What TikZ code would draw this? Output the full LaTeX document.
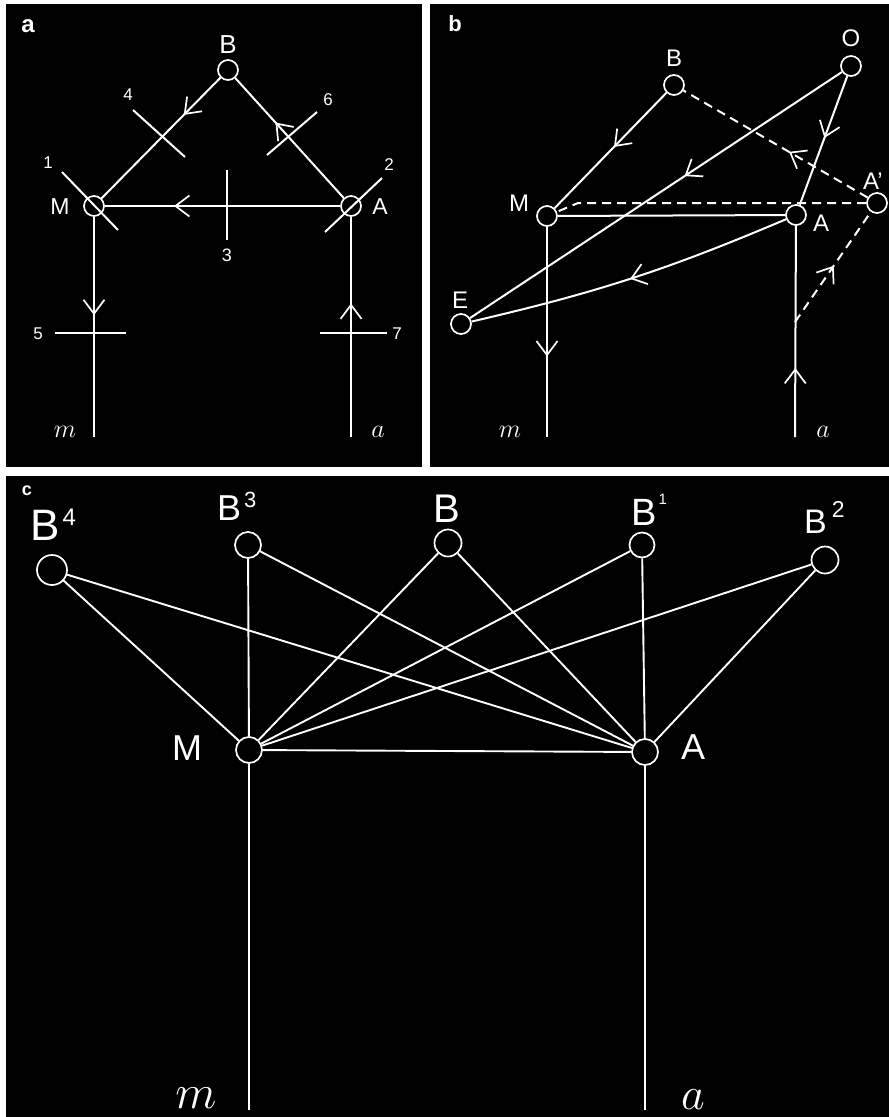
\RequirePackage{fix-cm}
\documentclass[tikz,border=0pt]{standalone}
\usepackage{fontspec}
\setmainfont{Liberation Sans}
\usetikzlibrary{decorations.markings}

\tikzset{
  site/.style={circle,draw=white,fill=black,line width=1.7pt,minimum size=#1,inner sep=0pt},
  site/.default=20pt,
  wire/.style={draw=white,line width=2pt},
  thin wire/.style={draw=white,line width=1.9pt},
  dash wire/.style={wire,dash pattern=on 9pt off 6pt},
  flow/.style={postaction={decorate},decoration={markings,
    mark=at position #1 with {\draw[white,line width=1.7pt,solid,line join=miter]
      (-14pt,10.5pt) -- (0pt,0pt) -- (-14pt,-10.5pt);}}},
  lbl/.style={text=white,inner sep=0pt,font=\fontsize{#1}{#1}\selectfont},
  tag/.style={text=white,inner sep=0pt,font=\bfseries\fontsize{#1}{#1}\selectfont},
}

\begin{document}
\begin{tikzpicture}[x=1pt,y=1pt]
\useasboundingbox[fill=white] (0,0) rectangle (889,-1117);
\fill (6,-4) rectangle (422,-467);
\fill (430,-4) rectangle (889,-467);
\fill (6,-476) rectangle (889,-1117);

% ---- panel a
\node[tag=24] (atag) at (28,-26) {a};
\node[site] (aB) at (228,-70) {};
\node[site] (aM) at (94,-206) {};
\node[site] (aA) at (351,-206) {};
\coordinate (am) at (94,-437);
\coordinate (aa) at (351,-437);
\draw[wire,flow=0.3] (aB) -- (aM);
\draw[wire,flow=0.62] (aA) -- (aB);
\draw[wire,flow=0.7] (aA) -- (aM);
\draw[wire,flow=0.44] (aM) -- (am);
\draw[wire,flow=0.6] (aa) -- (aA);

\draw[wire] (133,-110) -- (185,-157);
\draw[wire] (317,-112) -- (267,-155);
\draw[wire] (62,-172) -- (118,-230);
\draw[wire] (382,-178) -- (325,-232);
\draw[wire] (227,-170) -- (227,-240);
\draw[wire] (55,-333) -- (126,-333);
\draw[wire] (320,-333) -- (387,-333);

\node[lbl=26] (aBt) at (228,-45) {B};
\node[lbl=23] (aMt) at (60,-207) {M};
\node[lbl=23] (aAt) at (380,-207) {A};
\node[lbl=17] (a1) at (48,-163) {1};
\node[lbl=17] (a2) at (389,-165) {2};
\node[lbl=18] (a3) at (227,-255) {3};
\node[lbl=17] (a4) at (128,-95) {4};
\node[lbl=17] (a5) at (38,-334) {5};
\node[lbl=17] (a6) at (328,-100) {6};
\node[lbl=17] (a7) at (397,-334) {7};
\node[lbl=26] (amt) at (65,-432) {$m$};
\node[lbl=26] (aat) at (378,-432) {$a$};

% ---- panel b
\node[tag=22] (btag) at (455,-24) {b};
\node[site] (bB) at (674,-85) {};
\node[site] (bO) at (851,-66) {};
\node[site] (bM) at (547,-216) {};
\node[site] (bA) at (796,-215) {};
\node[site] (bA') at (877,-203) {};
\node[site] (bE) at (461,-324) {};
\coordinate (bm) at (547,-437);
\coordinate (ba) at (795,-437);
\coordinate (bq) at (795,-322);
\coordinate (bbend) at (578,-203);
\draw[wire,flow=0.46] (bB) -- (bM);
\draw[wire,flow=0.42] (bO) -- (bE);
\draw[wire,flow=0.47] (bO) -- (bA);
\draw[wire,flow=0.5] (bA) to[bend left=5] (bE);
\draw[wire] (bM) -- (bA);
\draw[dash wire] (bA') -- (bbend) -- (bM);
\draw[dash wire,flow=0.42] (bA') -- (bB);
\draw[dash wire,flow=0.5] (bq) -- (bA');
\draw[wire,flow=0.61] (bM) -- (bm);
\draw[wire,flow=0.32] (ba) -- (bA);

\node[lbl=24] (bBt) at (674,-58) {B};
\node[lbl=24] (bOt) at (851,-38) {O};
\node[lbl=24] (bMt) at (519,-203) {M};
\node[lbl=24] (bAt) at (821,-223) {A};
\node[lbl=24] (bA't) at (873,-181) {A’};
\node[lbl=24] (bEt) at (460,-300) {E};
\node[lbl=26] (bmt) at (510,-432) {$m$};
\node[lbl=26] (bat) at (823,-432) {$a$};

% ---- panel c
\node[tag=18] (ctag) at (27,-491) {c};
\node[site=30pt] (cB4) at (52,-570) {};
\node[site=26pt] (cB3) at (248,-545) {};
\node[site=27pt] (cB) at (448,-543) {};
\node[site=25pt] (cB1) at (642,-545) {};
\node[site=27pt] (cB2) at (825,-560) {};
\node[site=26pt] (cM) at (249,-750) {};
\node[site=26pt] (cA) at (645,-752) {};
\coordinate (cm) at (249,-1110);
\coordinate (ca) at (645,-1110);
\foreach \top in {cB4,cB3,cB,cB1,cB2} {
  \draw[thin wire] (cM) -- (\top);
  \draw[thin wire] (cA) -- (\top);
}
\draw[thin wire] (cM) -- (cA);
\draw[thin wire] (cM) -- (cm);
\draw[thin wire] (cA) -- (ca);

\node[lbl=44,anchor=base west] (cB4t) at (30,-540) {B\kern3pt\raisebox{15pt}{\fontsize{24}{24}\selectfont 4}};
\node[lbl=36,anchor=base west] (cB3t) at (217,-520) {B\kern3pt\raisebox{13pt}{\fontsize{22}{22}\selectfont 3}};
\node[lbl=40,anchor=base west] (cBt) at (433,-522) {B};
\node[lbl=38,anchor=base west] (cB1t) at (631,-525) {B\kern2pt\raisebox{21pt}{\fontsize{15}{15}\selectfont 1}};
\node[lbl=34,anchor=base west] (cB2t) at (804,-533) {B\kern5pt\raisebox{16pt}{\fontsize{23}{23}\selectfont 2}};
\node[lbl=36] (cMt) at (187,-748) {M};
\node[lbl=36] (cAt) at (693,-747) {A};
\node[lbl=48] (cmt) at (196,-1098) {$m$};
\node[lbl=46] (cat) at (693,-1100) {$a$};
\end{tikzpicture}
\end{document}
